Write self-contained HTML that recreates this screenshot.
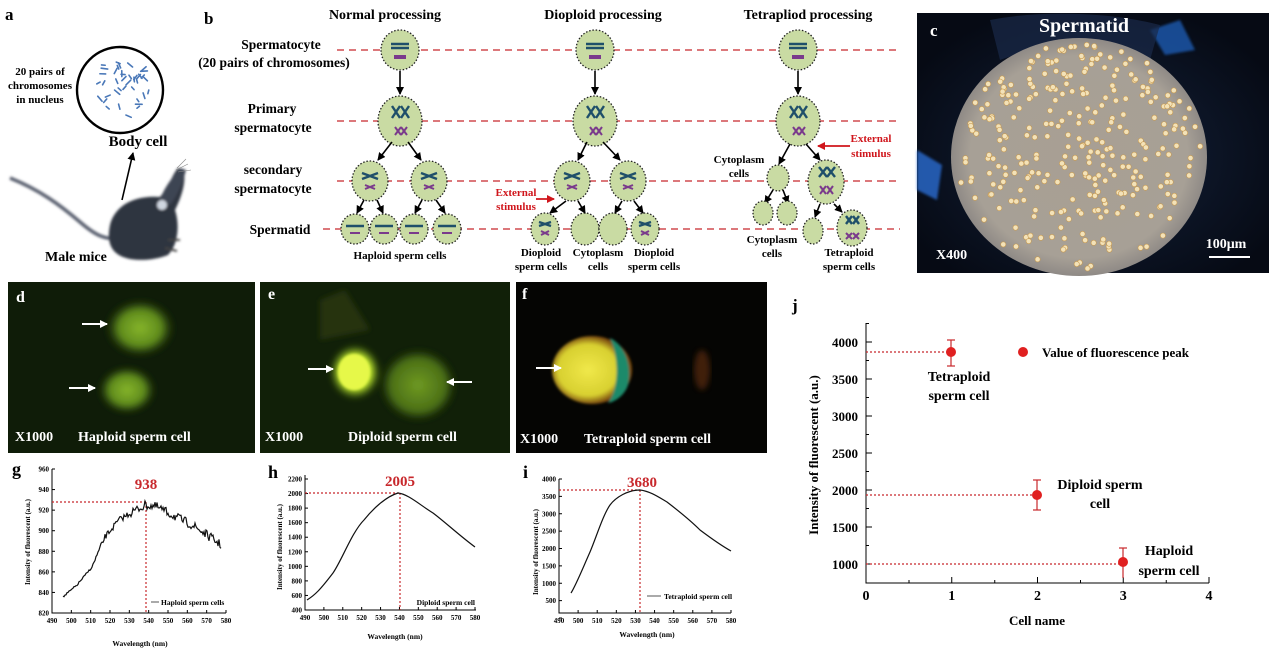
<!DOCTYPE html>
<html><head><meta charset="utf-8"><style>
html,body{margin:0;padding:0;background:#fff;width:1269px;height:648px;overflow:hidden}
svg{display:block}
text{font-family:"Liberation Serif",serif;font-weight:bold}
.c{fill:#c9dba3;stroke:#222;stroke-width:1.3;stroke-dasharray:1.5 1.8}
.dl{stroke:#c8282c;stroke-width:1.3;stroke-dasharray:7 5}
.ar{stroke:#000;stroke-width:1.6;marker-end:url(#ah)}
.ra{stroke:#d0161c;stroke-width:1.8;marker-end:url(#rh)}
.t{stroke:#1f4f6a;stroke-width:2.4}
.p{stroke:#7a3a8c;stroke-width:2}
.ax{stroke:#000;stroke-width:1;fill:none}
.rd{stroke:#c8282c;stroke-width:1.2;stroke-dasharray:2 2;fill:none}
</style></head><body>
<svg id="s" width="1269" height="648" viewBox="0 0 1269 648" xmlns="http://www.w3.org/2000/svg">
<defs>
<marker id="ah" markerWidth="8" markerHeight="8" refX="7" refY="4" orient="auto" markerUnits="userSpaceOnUse"><path d="M0,0 L8,4 L0,8 z" fill="#000"/></marker>
<marker id="rh" markerWidth="8" markerHeight="8" refX="7" refY="4" orient="auto" markerUnits="userSpaceOnUse"><path d="M0,0 L8,4 L0,8 z" fill="#d0161c"/></marker>
<marker id="wh" markerWidth="8" markerHeight="8" refX="7" refY="4" orient="auto" markerUnits="userSpaceOnUse"><path d="M0,0 L8,4 L0,8 z" fill="#fff"/></marker>
<radialGradient id="fov" cx="0.5" cy="0.5" r="0.5"><stop offset="0" stop-color="#a89f93"/><stop offset="0.85" stop-color="#a7a096"/><stop offset="1" stop-color="#8f8a86"/></radialGradient>
<radialGradient id="cbg" cx="0.5" cy="0.55" r="0.6"><stop offset="0.5" stop-color="#0d1628"/><stop offset="1" stop-color="#060a14"/></radialGradient>
<radialGradient id="g1"><stop offset="0" stop-color="#86b52a"/><stop offset="0.6" stop-color="#5e8a1c"/><stop offset="1" stop-color="#142608" stop-opacity="0"/></radialGradient>
<radialGradient id="g2"><stop offset="0" stop-color="#f2ff60"/><stop offset="0.6" stop-color="#c8f030"/><stop offset="1" stop-color="#4a7a12" stop-opacity="0"/></radialGradient>
<radialGradient id="g3"><stop offset="0" stop-color="#6f9a22"/><stop offset="0.7" stop-color="#4a6e16"/><stop offset="1" stop-color="#142608" stop-opacity="0"/></radialGradient>
<radialGradient id="yl" cx="0.45" cy="0.5"><stop offset="0" stop-color="#f0e84a"/><stop offset="0.75" stop-color="#d8d030"/><stop offset="1" stop-color="#7a4a10"/></radialGradient>
<filter id="bl"><feGaussianBlur stdDeviation="3"/></filter>
<filter id="bl2"><feGaussianBlur stdDeviation="1.2"/></filter>
</defs>

<!-- panel a -->
<text x="5" y="20" font-size="17">a</text>
<text x="40" y="75" font-size="11" text-anchor="middle">20 pairs of</text>
<text x="40" y="89" font-size="11" text-anchor="middle">chromosomes</text>
<text x="40" y="103" font-size="11" text-anchor="middle">in nucleus</text>
<circle cx="120" cy="90" r="43" fill="#fff" stroke="#000" stroke-width="2.4"/>
<g id="chr" stroke="#4a78b8" stroke-width="1.6" stroke-linecap="round"></g>
<text x="138" y="146" font-size="15" text-anchor="middle">Body cell</text>
<line x1="122" y1="200" x2="133" y2="153" class="ar"/>
<!-- mouse -->
<g filter="url(#bl2)">
<path d="M10,178 C40,190 60,205 80,222 C95,235 105,240 118,238" stroke="#5a6070" stroke-width="3.5" fill="none"/>
<path d="M110,225 C115,205 135,195 160,197 C170,185 172,175 178,168 L184,172 C186,185 180,200 175,210 C180,225 178,245 168,255 C150,262 125,262 115,252 C108,245 108,235 110,225 z" fill="#2f3440"/>
<path d="M160,200 C165,185 175,175 180,168 L186,170 C183,182 178,195 170,205 z" fill="#3e4452"/>
<path d="M168,240 l12,0 M165,248 l12,3" stroke="#444" stroke-width="2"/>
<circle cx="162" cy="205" r="5" fill="#cfd6e0"/>
</g>
<path d="M176,170 l12,-6 M178,172 l13,-2 M177,168 l9,-9" stroke="#888" stroke-width="0.6"/>
<text x="45" y="261" font-size="14">Male mice</text>

<!-- panel b -->
<text x="204" y="24" font-size="17">b</text>
<text x="385" y="19" font-size="14" text-anchor="middle">Normal processing</text>
<text x="603" y="19" font-size="14" text-anchor="middle">Dioploid processing</text>
<text x="808" y="19" font-size="14" text-anchor="middle">Tetrapliod processing</text>
<text x="281" y="49" font-size="13.5" text-anchor="middle">Spermatocyte</text>
<text x="274" y="67" font-size="13.5" text-anchor="middle">(20 pairs of chromosomes)</text>
<text x="272" y="113" font-size="13.5" text-anchor="middle">Primary</text>
<text x="273" y="132" font-size="13.5" text-anchor="middle">spermatocyte</text>
<text x="273" y="174" font-size="13.5" text-anchor="middle">secondary</text>
<text x="273" y="193" font-size="13.5" text-anchor="middle">spermatocyte</text>
<text x="280" y="234" font-size="13.5" text-anchor="middle">Spermatid</text>
<line x1="337" y1="50" x2="900" y2="50" class="dl"/>
<line x1="337" y1="121" x2="900" y2="121" class="dl"/>
<line x1="337" y1="181" x2="900" y2="181" class="dl"/>
<line x1="323" y1="229" x2="900" y2="229" class="dl"/>
<g id="cells"></g>
<text x="400" y="259" font-size="11" text-anchor="middle">Haploid sperm cells</text>
<text x="541" y="256" font-size="11" text-anchor="middle">Dioploid</text>
<text x="541" y="270" font-size="11" text-anchor="middle">sperm cells</text>
<text x="598" y="256" font-size="11" text-anchor="middle">Cytoplasm</text>
<text x="598" y="270" font-size="11" text-anchor="middle">cells</text>
<text x="654" y="256" font-size="11" text-anchor="middle">Dioploid</text>
<text x="654" y="270" font-size="11" text-anchor="middle">sperm cells</text>
<text x="516" y="196" font-size="11" fill="#d0161c" text-anchor="middle">External</text>
<text x="516" y="210" font-size="11" fill="#d0161c" text-anchor="middle">stimulus</text>
<line x1="536" y1="199" x2="554" y2="199" class="ra"/>
<text x="871" y="142" font-size="11" fill="#d0161c" text-anchor="middle">External</text>
<text x="871" y="157" font-size="11" fill="#d0161c" text-anchor="middle">stimulus</text>
<line x1="850" y1="146" x2="818" y2="146" class="ra"/>
<text x="739" y="163" font-size="11" text-anchor="middle">Cytoplasm</text>
<text x="739" y="177" font-size="11" text-anchor="middle">cells</text>
<text x="772" y="243" font-size="11" text-anchor="middle">Cytoplasm</text>
<text x="772" y="257" font-size="11" text-anchor="middle">cells</text>
<text x="849" y="256" font-size="11" text-anchor="middle">Tetraploid</text>
<text x="849" y="270" font-size="11" text-anchor="middle">sperm cells</text>

<!-- panel c -->
<rect x="917" y="13" width="352" height="260" fill="url(#cbg)"/>
<path d="M1150,30 l30,-10 l15,30 l-30,5 z" fill="#1d5ab0" opacity="0.8" filter="url(#bl2)"/>
<path d="M917,150 l25,15 l-5,35 l-20,-10 z" fill="#2a6cd0" opacity="0.8" filter="url(#bl2)"/>
<path d="M990,20 C1040,10 1110,12 1160,25 L1150,60 C1100,45 1040,45 1000,60 z" fill="#1a2a48" opacity="0.7"/>
<ellipse cx="1079" cy="157" rx="128" ry="119" fill="url(#fov)"/>
<g id="dots"></g>
<text x="930" y="36" font-size="17" fill="#fff">c</text>
<text x="1084" y="32" font-size="20" fill="#fff" text-anchor="middle">Spermatid</text>
<text x="936" y="259" font-size="14" fill="#fff">X400</text>
<text x="1226" y="248" font-size="14" fill="#fff" text-anchor="middle">100μm</text>
<line x1="1209" y1="257" x2="1250" y2="257" stroke="#fff" stroke-width="2"/>

<!-- panel d -->
<rect x="8" y="282" width="247" height="171" fill="#0f1c08"/>
<g filter="url(#bl)">
<ellipse cx="140" cy="328" rx="36" ry="30" fill="url(#g1)"/>
<ellipse cx="127" cy="390" rx="30" ry="25" fill="url(#g1)"/>
</g>
<line x1="82" y1="324" x2="107" y2="324" stroke="#fff" stroke-width="2" marker-end="url(#wh)"/>
<line x1="69" y1="388" x2="95" y2="388" stroke="#fff" stroke-width="2" marker-end="url(#wh)"/>
<text x="16" y="302" font-size="16" fill="#fff">d</text>
<text x="15" y="441" font-size="14" fill="#fff">X1000</text>
<text x="78" y="441" font-size="14" fill="#fff">Haploid sperm cell</text>

<!-- panel e -->
<rect x="260" y="282" width="250" height="171" fill="#112008"/>
<g filter="url(#bl)">
<path d="M320,300 L345,290 L370,330 L320,340 z" fill="#2a3a14" opacity="0.8"/>
<ellipse cx="418" cy="385" rx="40" ry="38" fill="url(#g3)"/>
<ellipse cx="355" cy="372" rx="26" ry="28" fill="url(#g2)"/>
</g>
<ellipse cx="354" cy="372" rx="16" ry="18" fill="#e6f84a" filter="url(#bl2)"/>
<line x1="308" y1="369" x2="333" y2="369" stroke="#fff" stroke-width="2" marker-end="url(#wh)"/>
<line x1="472" y1="382" x2="447" y2="382" stroke="#fff" stroke-width="2" marker-end="url(#wh)"/>
<text x="268" y="299" font-size="16" fill="#fff">e</text>
<text x="265" y="441" font-size="14" fill="#fff">X1000</text>
<text x="348" y="441" font-size="14" fill="#fff">Diploid sperm cell</text>

<!-- panel f -->
<rect x="516" y="282" width="251" height="171" fill="#050503"/>
<g filter="url(#bl2)">
<ellipse cx="592" cy="370" rx="40" ry="34" fill="url(#yl)"/>
<path d="M610,338 C625,345 632,365 628,385 C625,395 615,402 608,403 C618,390 620,360 610,338 z" fill="#1a8a6a"/>
</g>
<ellipse cx="702" cy="370" rx="8" ry="20" fill="#5a2a0e" opacity="0.7" filter="url(#bl)"/>
<line x1="536" y1="368" x2="561" y2="368" stroke="#fff" stroke-width="2" marker-end="url(#wh)"/>
<text x="522" y="299" font-size="16" fill="#fff">f</text>
<text x="520" y="443" font-size="14" fill="#fff">X1000</text>
<text x="584" y="443" font-size="14" fill="#fff">Tetraploid sperm cell</text>

<!-- panel g -->
<text x="12" y="475" font-size="18">g</text>
<path class="ax" d="M52,469 L52,613 L226,613"/>
<g id="gt"></g>
<path class="rd" d="M52,502 L146,502 M146,502 L146,613"/>
<text x="146" y="489" font-size="15" fill="#c8282c" text-anchor="middle">938</text>
<path id="gc" fill="none" stroke="#111" stroke-width="1.2" d="M63,597 L221,545"/>
<line x1="151" y1="602" x2="159" y2="602" stroke="#555"/>
<text x="161" y="605" font-size="7.5">Haploid sperm cells</text>
<text x="140" y="646" font-size="7.5" text-anchor="middle">Wavelength (nm)</text>
<text transform="translate(30,542) rotate(-90)" font-size="7" text-anchor="middle">Intensity of fluorescent (a.u.)</text>

<!-- panel h -->
<text x="268" y="478" font-size="18">h</text>
<path class="ax" d="M305,475 L305,610 L476,610"/>
<g id="ht"></g>
<path class="rd" d="M305,493 L400,493 M400,493 L400,610"/>
<text x="400" y="486" font-size="15" fill="#c8282c" text-anchor="middle">2005</text>
<path fill="none" stroke="#111" stroke-width="1.2" d="M307,600 C315,595 320,590 333,573 C342,560 352,532 364,520 C372,510 385,497 398,493 C408,494 420,505 433,513 C445,522 460,536 475,547"/>
<text x="475" y="605" font-size="7.5" text-anchor="end">Diploid sperm cell</text>
<text x="395" y="639" font-size="7.5" text-anchor="middle">Wavelength (nm)</text>
<text transform="translate(282,547) rotate(-90)" font-size="7" text-anchor="middle">Intensity of fluorescent (a.u.)</text>

<!-- panel i -->
<text x="523" y="478" font-size="18">i</text>
<path class="ax" d="M559,479 L559,613 L731,613"/>
<g id="it"></g>
<path class="rd" d="M559,490 L640,490 M640,490 L640,613"/>
<text x="642" y="487" font-size="15" fill="#c8282c" text-anchor="middle">3680</text>
<path fill="none" stroke="#111" stroke-width="1.2" d="M571,593 C576,585 582,570 590,552 C596,538 603,515 610,505 C616,497 628,490 640,490 C650,491 660,498 667,502 C680,512 692,522 700,530 C712,539 722,546 731,551"/>
<line x1="647" y1="596" x2="661" y2="596" stroke="#555"/>
<text x="664" y="599" font-size="7.5">Tetraploid sperm cell</text>
<text x="647" y="637" font-size="7.5" text-anchor="middle">Wavelength (nm)</text>
<text transform="translate(538,552) rotate(-90)" font-size="7" text-anchor="middle">Intensity of fluorescent (a.u.)</text>

<!-- panel j -->
<text x="792" y="311" font-size="17">j</text>
<path class="ax" d="M866,323 L866,583 L1209,583" stroke-width="1.3"/>
<g id="jt"></g>
<path class="rd" d="M866,352 L951,352 M866,495 L1037,495 M866,564 L1123,564"/>
<g stroke="#c8282c" stroke-width="1.2">
<line x1="951" y1="340" x2="951" y2="366"/><line x1="947" y1="340" x2="955" y2="340"/><line x1="947" y1="366" x2="955" y2="366"/>
<line x1="1037" y1="480" x2="1037" y2="510"/><line x1="1033" y1="480" x2="1041" y2="480"/><line x1="1033" y1="510" x2="1041" y2="510"/>
<line x1="1123" y1="548" x2="1123" y2="578"/><line x1="1119" y1="548" x2="1127" y2="548"/>
</g>
<circle cx="951" cy="352" r="5" fill="#e02020"/>
<circle cx="1037" cy="495" r="5" fill="#e02020"/>
<circle cx="1123" cy="562" r="5" fill="#e02020"/>
<circle cx="1023" cy="352" r="5" fill="#e02020"/>
<text x="1042" y="357" font-size="13">Value of fluorescence peak</text>
<text x="959" y="381" font-size="14" text-anchor="middle">Tetraploid</text>
<text x="959" y="400" font-size="14" text-anchor="middle">sperm cell</text>
<text x="1100" y="489" font-size="14" text-anchor="middle">Diploid sperm</text>
<text x="1100" y="508" font-size="14" text-anchor="middle">cell</text>
<text x="1169" y="555" font-size="14" text-anchor="middle">Haploid</text>
<text x="1169" y="575" font-size="14" text-anchor="middle">sperm cell</text>
<text x="1037" y="625" font-size="13" text-anchor="middle">Cell name</text>
<text transform="translate(818,455) rotate(-90)" font-size="13" text-anchor="middle">Intensity of fluorescent (a.u.)</text>
</svg>
<script>
(function(){
var NS="http://www.w3.org/2000/svg";
function el(p,n,a,t){var e=document.createElementNS(NS,n);for(var k in a)e.setAttribute(k,a[k]);if(t!=null)e.textContent=t;p.appendChild(e);return e;}
var seed=7;function rnd(){seed=(seed*16807)%2147483647;return seed/2147483647;}
var ch=document.getElementById('chr');
for(var i=0;i<40;i++){var a=rnd()*6.28,d=Math.sqrt(rnd())*30,x=120+Math.cos(a)*d,y=90+Math.sin(a)*d,b=rnd()*6.28,l=3+rnd()*4;
el(ch,'line',{x1:x,y1:y,x2:x+Math.cos(b)*l,y2:y+Math.sin(b)*l});}
var C=document.getElementById('cells');
function ell(x,y,rx,ry){el(C,'ellipse',{cx:x,cy:y,rx:rx,ry:ry,'class':'c'});}
function L(x1,y1,x2,y2,c){el(C,'line',{x1:x1,y1:y1,x2:x2,y2:y2,'class':c});}
function X(x,y,w,h,c){L(x-w,y-h,x+w,y+h,c);L(x-w,y+h,x+w,y-h,c);}
function topc(x,y){ell(x,y,19,20);L(x-9,y-6,x+9,y-6,'t');L(x-9,y-2,x+9,y-2,'t');L(x-6,y+6,x+6,y+6,'p');L(x-6,y+8,x+6,y+8,'p');}
function prim(x,y){ell(x,y,22,25);X(x-4,y-9,4,6,'t');X(x+5,y-9,4,6,'t');X(x-2,y+10,3,4,'p');X(x+4,y+10,3,4,'p');}
function sec(x,y,rx,ry){ell(x,y,rx,ry);X(x,y-5,8,3,'t');X(x,y+6,5,2,'p');}
function hap(x,y){ell(x,y,14,15);L(x-9,y-3,x+9,y-3,'t');L(x-5,y+4,x+5,y+4,'p');}
function arr(x1,y1,x2,y2){el(C,'line',{x1:x1,y1:y1,x2:x2,y2:y2,'class':'ar'});}
[400,595,798].forEach(function(x){topc(x,50);arr(x,71,x,94);prim(x,121);});
sec(370,181,18,20);sec(429,181,18,20);arr(392,142,378,160);arr(408,142,421,160);
[355,384,414,447].forEach(function(x){hap(x,229);});
arr(364,200,357,213);arr(377,200,383,213);arr(422,200,415,213);arr(436,200,445,213);
sec(572,181,18,20);sec(628,181,18,20);arr(587,142,578,160);arr(603,142,620,160);
[[545,1],[585,0],[613,0],[645,1]].forEach(function(p){var x=p[0],y=229;ell(x,y,14,16);if(p[1]){X(x,y-5,6,2,'t');X(x,y+4,4,2,'p');}});
arr(566,201,550,213);arr(578,201,585,213);arr(622,201,615,213);arr(634,201,643,213);
arr(790,144,779,164);arr(806,144,820,160);
ell(778,178,11,13);ell(826,182,18,22);X(823,172,4,5,'t');X(831,172,4,5,'t');X(823,190,3,4,'p');X(830,190,3,4,'p');
arr(773,190,765,203);arr(783,190,788,203);
ell(763,213,10,12);ell(787,213,10,12);ell(813,231,10,13);
ell(852,228,15,18);X(849,220,3,4,'t');X(856,220,3,4,'t');X(849,236,3,3,'p');X(856,236,3,3,'p');
arr(820,204,815,217);arr(834,204,842,212);
var D=document.getElementById('dots');
for(var i=0;i<300;i++){var a=rnd()*6.28,d=Math.sqrt(rnd()),x=1079+Math.cos(a)*d*122,y=157+Math.sin(a)*d*114;
el(D,'circle',{cx:x,cy:y,r:2.6,fill:'#f3e2b8',stroke:'#c89a50','stroke-width':0.6});}
var pts=[[63,597],[77,585],[92,567],[105,537],[119,520],[132,512],[146,505],[157,507],[172,515],[192,525],[207,535],[221,545]];
var dd="";for(var xx=63;xx<=221;xx+=1){var k=0;while(k<pts.length-2&&pts[k+1][0]<xx)k++;var p=pts[k],q=pts[k+1],t=(xx-p[0])/(q[0]-p[0]);var yy=p[1]+(q[1]-p[1])*t+(xx>95?(rnd()-0.5)*(xx>130?9:6):(rnd()-0.5)*2);dd+=(dd?"L":"M")+xx+","+yy.toFixed(1);}
document.getElementById('gc').setAttribute('d',dd);
function ticks(id,x0,x1,y,vals,ax,ytop,ybot,yl){var g=document.getElementById(id);
for(var i=0;i<vals.length;i++){var x=x0+(x1-x0)*i/(vals.length-1);el(g,'line',{x1:x,y1:y,x2:x,y2:y-3,stroke:'#000'});el(g,'text',{x:x,y:y+10,'font-size':7,'text-anchor':'middle'},vals[i]);}
for(var i=0;i<yl.length;i++){var yy=ybot+(ytop-ybot)*i/(yl.length-1);el(g,'line',{x1:ax,y1:yy,x2:ax+3,y2:yy,stroke:'#000'});el(g,'text',{x:ax-3,y:yy+2.5,'font-size':7,'text-anchor':'end'},yl[i]);}}
var W=[490,500,510,520,530,540,550,560,570,580];
ticks('gt',52,226,613,W,52,469,613,[820,840,860,880,900,920,940,960]);
ticks('ht',305,475,610,W,305,479,610,[400,600,800,1000,1200,1400,1600,1800,2000,2200]);
ticks('it',559,731,613,W,559,479,618,['',500,1000,1500,2000,2500,3000,3500,4000]);
var J=document.getElementById('jt');
[0,1,2,3,4].forEach(function(v,i){var x=866+i*85.75;el(J,'line',{x1:x,y1:583,x2:x,y2:577,stroke:'#000'});el(J,'text',{x:x,y:600,'font-size':14,'text-anchor':'middle'},v);
if(i<4)el(J,'line',{x1:x+43,y1:583,x2:x+43,y2:580,stroke:'#000'});});
[1000,1500,2000,2500,3000,3500,4000].forEach(function(v){var y=564-(v-1000)*0.074;el(J,'line',{x1:866,y1:y,x2:872,y2:y,stroke:'#000'});el(J,'text',{x:858,y:y+5,'font-size':13,'text-anchor':'end'},v);
el(J,'line',{x1:866,y1:y-18.5,x2:869,y2:y-18.5,stroke:'#000'});});
})();
</script>
</body></html>
